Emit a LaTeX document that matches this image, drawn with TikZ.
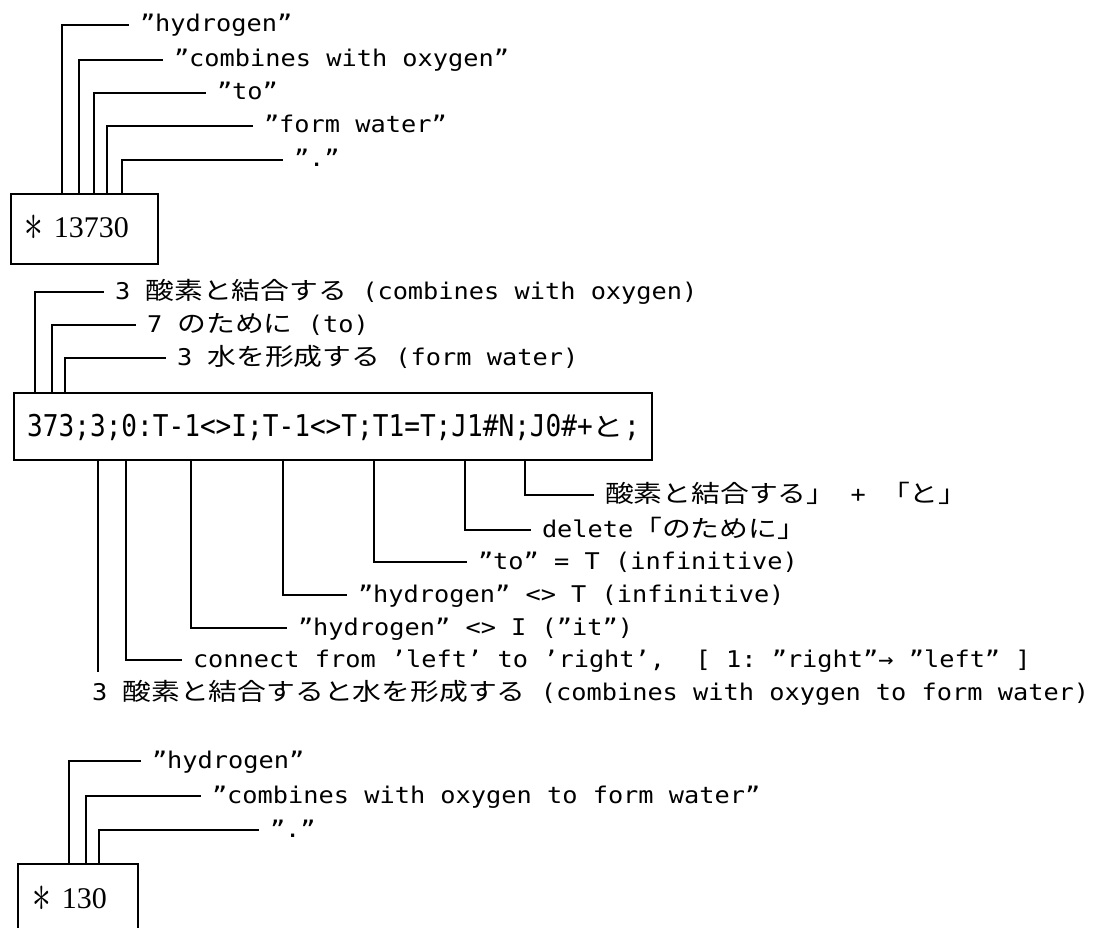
\documentclass[tikz,border=0pt]{standalone}
\usepackage{fontspec}
\usepackage{graphicx}
\newfontfamily\labmono[FakeStretch=1.1]{DejaVu Sans Mono}
\newfontfamily\codemono[FakeStretch=0.87]{DejaVu Sans Mono}
\newfontfamily\jpsans[FakeStretch=1.2]{Noto Sans CJK JP}
\newfontfamily\numserif{Liberation Serif}
\newcommand\labfont{\labmono\fontsize{23pt}{23pt}\selectfont}
\newcommand\jp[1]{{\jpsans\fontsize{24pt}{24pt}\selectfont#1}}
\newcommand\jpc[1]{{\jpsans\fontsize{26pt}{26pt}\selectfont#1}}
\newcommand\astmark{\raisebox{-3pt}{\scalebox{1.5}[2.2]{$\ast$}}\hspace{11pt}}

\begin{document}
\begin{tikzpicture}[x=1pt,y=-1pt,
  link/.style={line width=1.7pt},
  frame/.style={draw, line width=1.7pt, inner sep=0pt, anchor=north west},
  lab/.style={font=\labfont, anchor=west, inner sep=0pt, outer xsep=11pt,
              text height=14pt, text depth=0pt},
  codetext/.style={font=\codemono\fontsize{30pt}{30pt}\selectfont,
                   anchor=base west, inner sep=0pt},
  numtext/.style={font=\numserif\fontsize{30pt}{30pt}\selectfont,
                  anchor=base west, inner sep=0pt}]
\useasboundingbox (0,0) rectangle (1106,928);
\fill[white] (0,0) rectangle (1106,928);

% ---- first record: * 13730 ----
\node (b1) [frame, minimum width=147pt, minimum height=70pt] at (10,193) {};
\node (b1t) [numtext] at (24,238) {\astmark 13730};
\node (l1) [lab] at (129,25)  {”hydrogen”};
\node (l2) [lab] at (163,60)  {”combines with oxygen”};
\node (l3) [lab] at (206,93)  {”to”};
\node (l4) [lab] at (253,126) {”form water”};
\node (l5) [lab] at (283,160) {”.”};
\draw[link] (62,0 |- b1.north)  |- (l1);
\draw[link] (79,0 |- b1.north)  |- (l2);
\draw[link] (94,0 |- b1.north)  |- (l3);
\draw[link] (107,0 |- b1.north) |- (l4);
\draw[link] (122,0 |- b1.north) |- (l5);

% ---- rule record ----
\node (m1) [lab] at (104,292) {3 \jp{酸素と結合する} (combines with oxygen)};
\node (m2) [lab] at (136,325) {7 \jp{のために} (to)};
\node (m3) [lab] at (166,358) {3 \jp{水を形成する} (form water)};
\node (b2) [frame, minimum width=638pt, minimum height=67pt] at (13,392) {};
\node (b2t) [codetext] at (27,436) {373;3;0:T-1<>I;T-1<>T;T1=T;J1\#N;J0\#+\jpc{と};};
\draw[link] (35,0 |- b2.north) |- (m1);
\draw[link] (52,0 |- b2.north) |- (m2);
\draw[link] (65,0 |- b2.north) |- (m3);

\node (n1) [lab] at (594,495) {\jp{酸素と結合する」} + \jp{「と」}};
\node (n2) [lab] at (531,530) {delete\jp{「のために」}};
\node (n3) [lab] at (467,562) {”to” = T (infinitive)};
\node (n4) [lab] at (347,595) {”hydrogen” <> T (infinitive)};
\node (n5) [lab] at (287,628) {”hydrogen” <> I (”it”)};
\node (n6) [lab] at (182,660) {connect from ’left’ to ’right’,\ \ [ 1:\ ”right”→ ”left” ]};
\coordinate (n0) at (98,672);
\node (n7) [lab, outer xsep=0pt] at (92,693)
  {3 \jp{酸素と結合すると水を形成する} (combines with oxygen to form water)};
\draw[link] (525,0 |- b2.south) |- (n1);
\draw[link] (465,0 |- b2.south) |- (n2);
\draw[link] (374,0 |- b2.south) |- (n3);
\draw[link] (283,0 |- b2.south) |- (n4);
\draw[link] (191,0 |- b2.south) |- (n5);
\draw[link] (126,0 |- b2.south) |- (n6);
\draw[link] (n0 |- b2.south) -- (n0);

% ---- merged record: * 130 ----
\node (b3) [frame, minimum width=120pt, minimum height=72pt] at (17,863) {};
\node (b3t) [numtext] at (32,908) {\astmark 130};
\node (p1) [lab] at (141,761) {”hydrogen”};
\node (p2) [lab] at (201,796) {”combines with oxygen to form water”};
\node (p3) [lab] at (259,830) {”.”};
\draw[link] (69,0 |- b3.north) |- (p1);
\draw[link] (86,0 |- b3.north) |- (p2);
\draw[link] (99,0 |- b3.north) |- (p3);
\end{tikzpicture}
\end{document}
